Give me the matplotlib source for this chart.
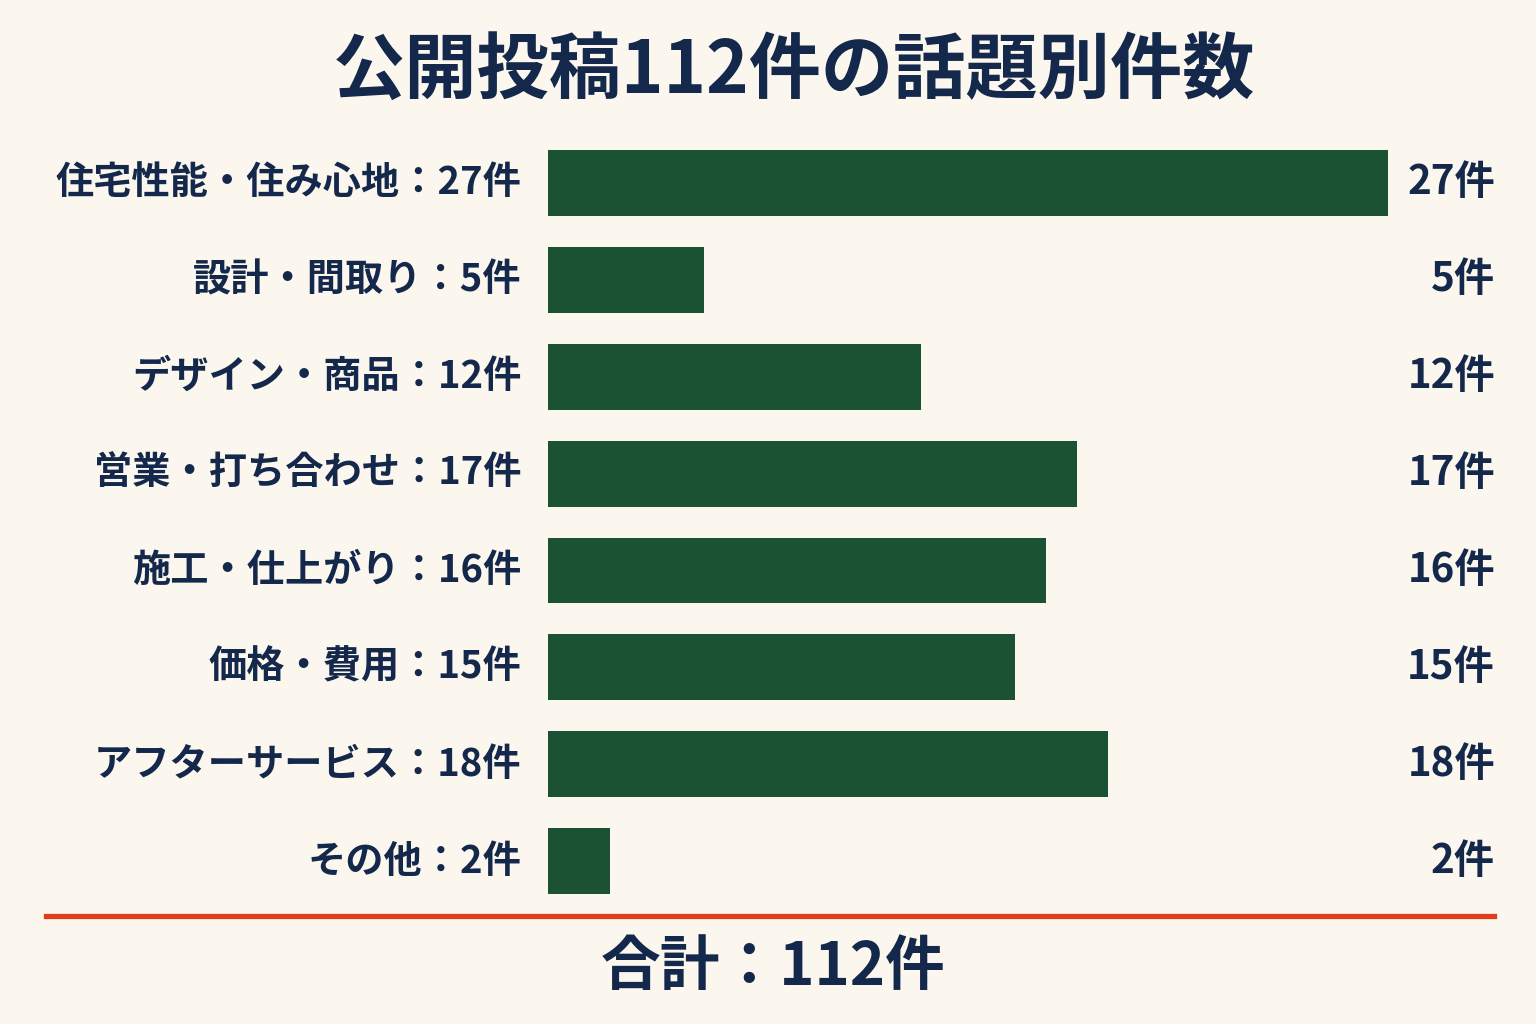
import matplotlib.pyplot as plt
from matplotlib import transforms

plt.rcParams['font.family'] = ['Noto Sans CJK JP', 'DejaVu Sans']

categories = ["住宅性能・住み心地", "設計・間取り", "デザイン・商品", "営業・打ち合わせ",
              "施工・仕上がり", "価格・費用", "アフターサービス", "その他"]
counts = [27, 5, 12, 17, 16, 15, 18, 2]
total = 112

bg = "#FCF7EE"
navy = "#14284B"
green = "#1B5233"
red = "#E03C1E"

fig = plt.figure(figsize=(15.36, 10.24), dpi=100, facecolor=bg)
ax = fig.add_axes([548 / 1536, 1 - 909.5 / 1024, 840 / 1536, 775 / 1024])
ax.set_facecolor(bg)

y = list(range(len(categories)))
ax.barh(y, counts, height=0.68, color=green)
ax.set_xlim(0, max(counts))
ax.set_ylim(len(categories) - 0.5, -0.5)
ax.axis("off")

right = transforms.blended_transform_factory(fig.transFigure, ax.transData)
for i, (c, n) in enumerate(zip(categories, counts)):
    ax.text(-0.85, i, c + "：" + str(n) + "件", ha="right", va="center",
            fontsize=27.5, fontweight="bold", color=navy)
    ax.text(1495 / 1536, i, str(n) + "件", transform=right,
            ha="right", va="center", fontsize=29, fontweight="bold", color=navy)

fig.text(0.517, 1 - 72 / 1024, "公開投稿112件の話題別件数", ha="center", va="center",
         fontsize=52, fontweight="bold", color=navy)

fig.add_artist(plt.Line2D([46 / 1536, 1494 / 1536], [1 - 916 / 1024, 1 - 916 / 1024],
                          color=red, linewidth=3.8, transform=fig.transFigure))

fig.text(773 / 1536, 1 - 968 / 1024, "合計：" + str(total) + "件", ha="center", va="center",
         fontsize=43, fontweight="bold", color=navy)

fig.savefig("out.png", dpi=100, facecolor=bg)
